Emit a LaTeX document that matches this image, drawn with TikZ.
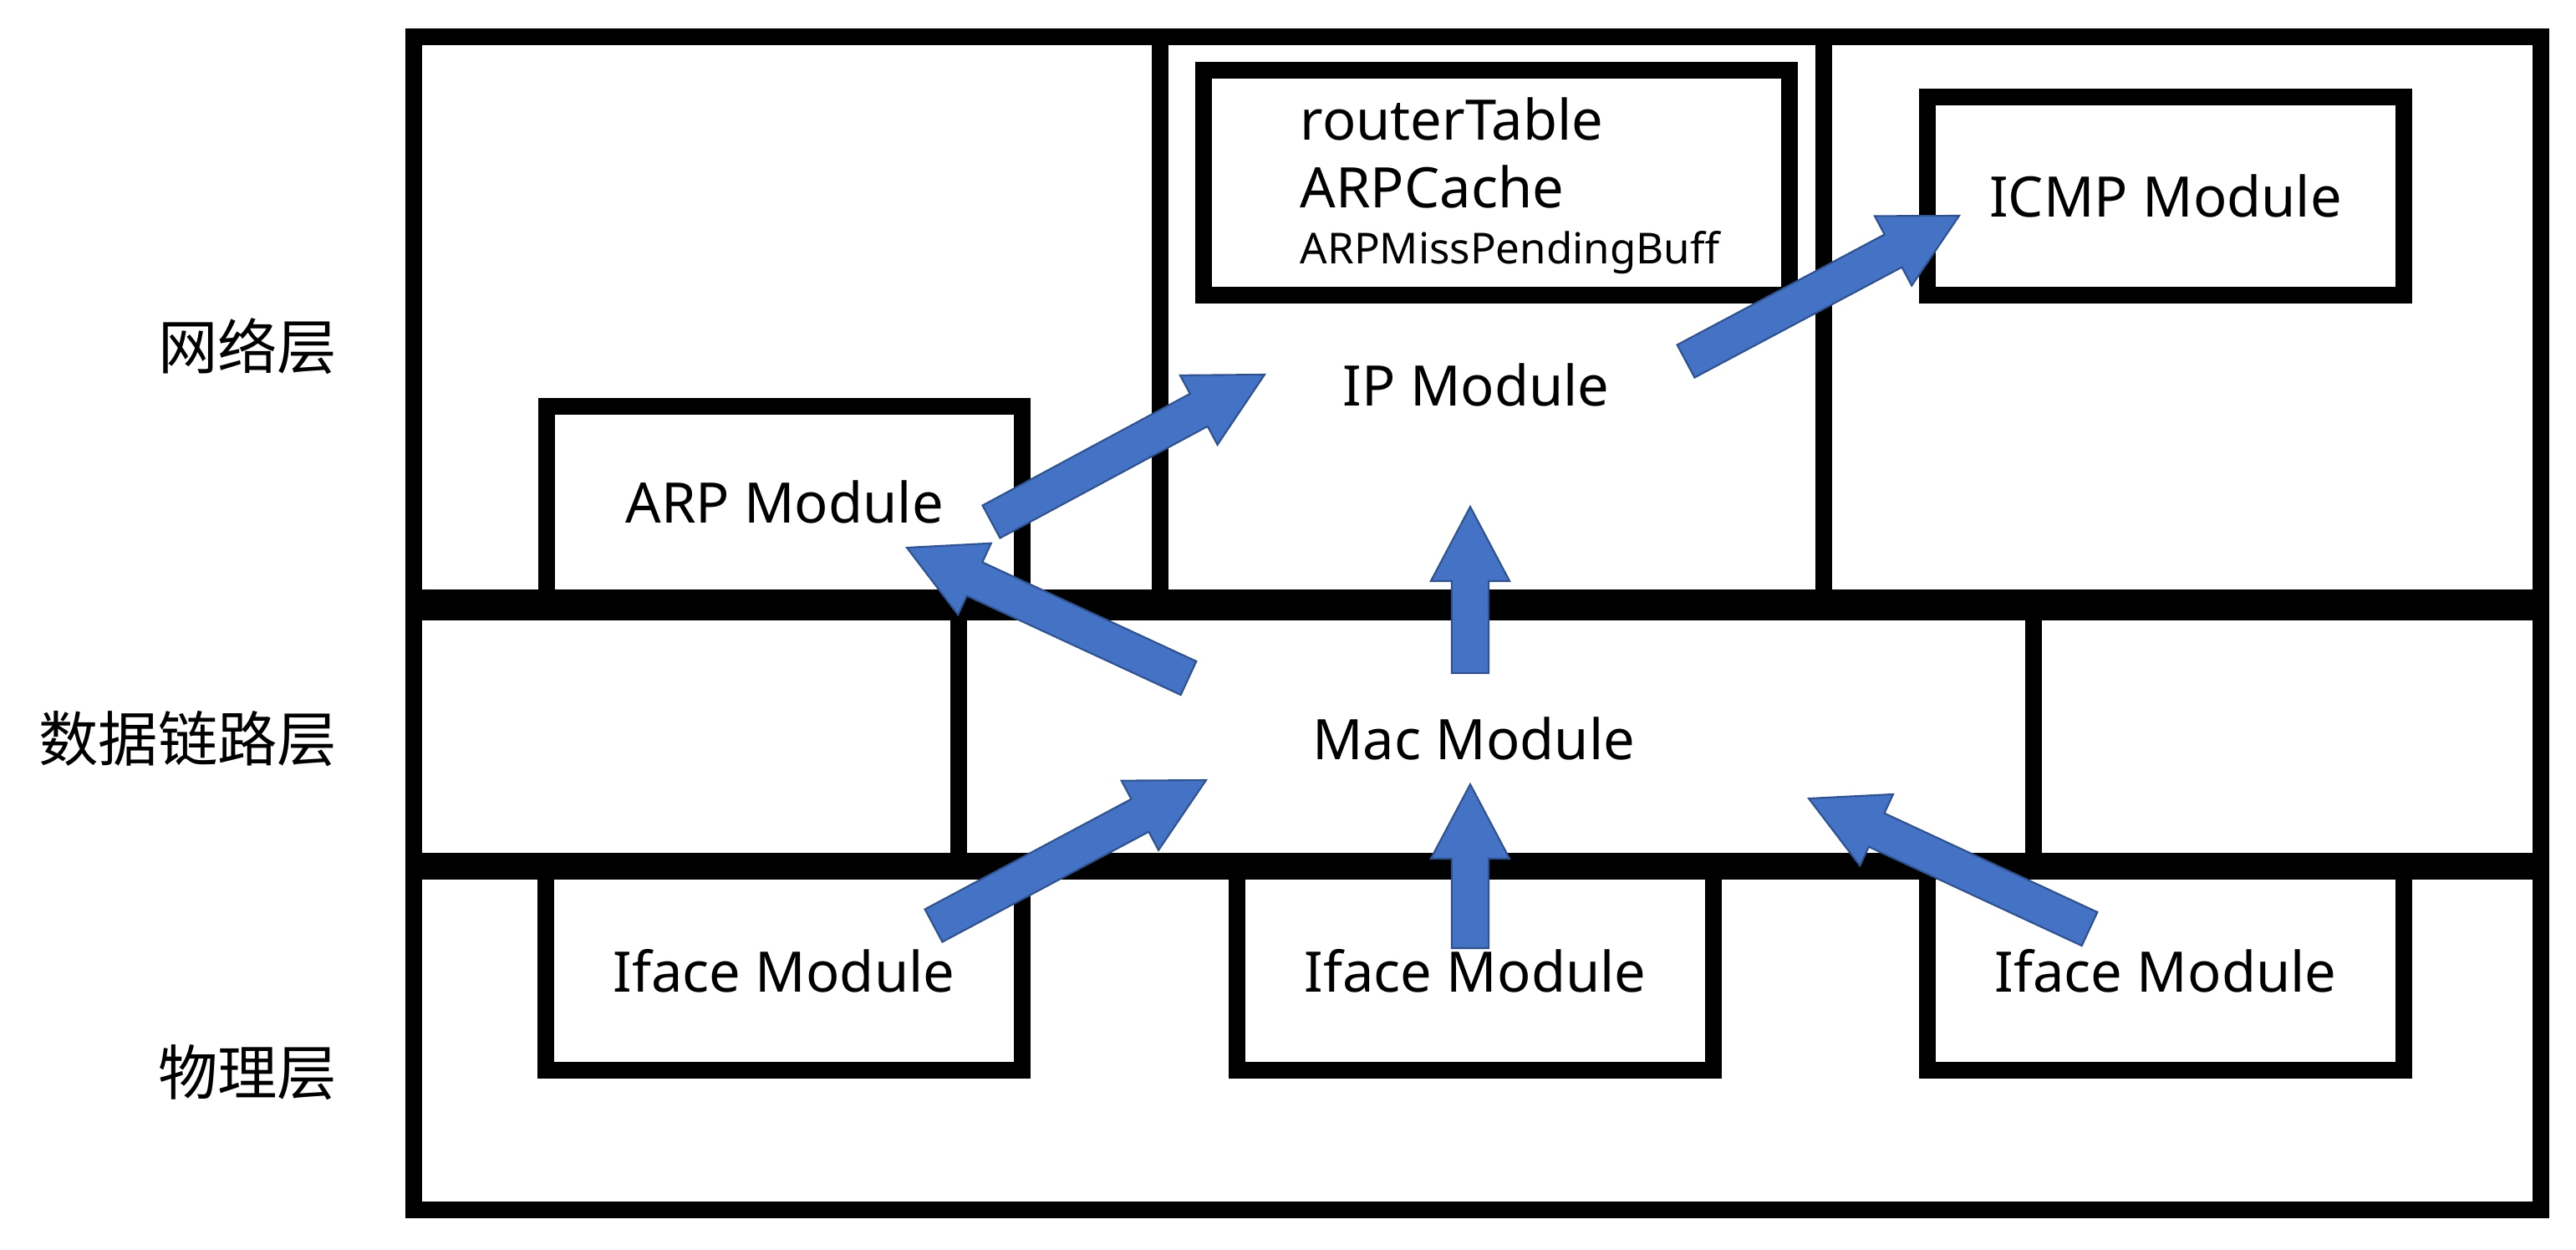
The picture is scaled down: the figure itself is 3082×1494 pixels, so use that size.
\documentclass[tikz,border=0pt]{standalone}
\usepackage{fontspec}
\setmainfont{Noto Sans}
\newfontfamily\cjkfont{Noto Sans CJK SC}
\usetikzlibrary{calc}

\definecolor{arrowblue}{HTML}{4472C4}
\definecolor{arrowedge}{HTML}{2F528F}

% block arrow from tail coordinate #1 to tip coordinate #2
\newcommand{\blockarrow}[2]{%
  \draw[blockarrow] let \p1=($(#2)-(#1)$), \n1={atan2(\y1,\x1)}, \n2={veclen(\x1,\y1)} in
    ($(#1)+({\n1+90}:6.3pt)$) -- ($(#1)+(\n1:{\n2-25.3pt})+({\n1+90}:6.3pt)$)
    -- ($(#1)+(\n1:{\n2-25.3pt})+({\n1+90}:13.4pt)$) -- (#2)
    -- ($(#1)+(\n1:{\n2-25.3pt})+({\n1-90}:13.4pt)$) -- ($(#1)+(\n1:{\n2-25.3pt})+({\n1-90}:6.3pt)$)
    -- ($(#1)+({\n1-90}:6.3pt)$) -- cycle;}

\begin{document}
\begin{tikzpicture}[
    x=0.01cm, y=-0.01cm,
    font=\fontsize{19}{23}\selectfont,
    layer/.style={line width=2mm},
    modbox/.style={rectangle, draw, line width=2mm, inner sep=0pt},
    lbl/.style={inner sep=0pt},
    layername/.style={inner sep=0pt, anchor=east, font=\cjkfont\fontsize{20.3}{24}\selectfont},
    blockarrow/.style={fill=arrowblue, draw=arrowedge, line width=0.6pt}
]
\useasboundingbox (0,0) rectangle (3082,1494);

% layers
\draw[layer] (495,44) rectangle (1388,715);
\draw[layer] (1388,44) rectangle (2182,715);
\draw[layer] (2182,44) rectangle (3040,715);
\draw[layer] (495,732) rectangle (1147,1030);
\draw[layer] (1147,732) rectangle (2433,1030);
\draw[layer] (2433,732) rectangle (3040,1030);
\draw[layer] (495,1042) rectangle (3040,1447);

% layer names
\node[layername] (netname) at (404,414) {网络层};
\node[layername] (linkname) at (404,884) {数据链路层};
\node[layername] (phyname) at (404,1283) {物理层};

% modules
\node[modbox, minimum width=5.69cm, minimum height=2.29cm] (arp) at (938.5,600.5) {ARP Module};
\node[modbox, minimum width=7.01cm, minimum height=2.69cm] (ipdata) at (1790.5,218.5) {};
\node[lbl, anchor=west, align=left] (ipdatatext) at (1555,222)
    {\fontsize{19}{24.5}\selectfont routerTable\\ARPCache\\[-4pt]\fontsize{14.5}{17}\selectfont ARPMissPendingBuff};
\node[modbox, minimum width=5.70cm, minimum height=2.37cm] (icmp) at (2591,234.5) {ICMP Module};
\node[lbl] (ip) at (1766,460) {IP Module};
\node[lbl] (mac) at (1763,883) {Mac Module};
\node[modbox, minimum width=5.70cm, minimum height=2.38cm] (iface1) at (938,1161) {Iface Module};
\node[modbox, minimum width=5.70cm, minimum height=2.38cm] (iface2) at (1765,1161) {Iface Module};
\node[modbox, minimum width=5.70cm, minimum height=2.38cm] (iface3) at (2591,1161) {Iface Module};

% arrow ends
\coordinate (arp out) at (1186,624);
\coordinate (ip in arp) at (1513,448);
\coordinate (ip out) at (2017,432);
\coordinate (icmp in) at (2344,258);
\coordinate (mac out arp) at (1422,811);
\coordinate (arp in) at (1085,655);
\coordinate (mac out ip) at (1759,805);
\coordinate (ip in mac) at (1759,606);
\coordinate (iface1 out) at (1117,1107);
\coordinate (mac in 1) at (1443,933);
\coordinate (iface2 out) at (1759,1134);
\coordinate (mac in 2) at (1759,938);
\coordinate (iface3 out) at (2500,1111);
\coordinate (mac in 3) at (2164,955);

\blockarrow{arp out}{ip in arp}
\blockarrow{ip out}{icmp in}
\blockarrow{mac out arp}{arp in}
\blockarrow{mac out ip}{ip in mac}
\blockarrow{iface1 out}{mac in 1}
\blockarrow{iface2 out}{mac in 2}
\blockarrow{iface3 out}{mac in 3}
\end{tikzpicture}
\end{document}
